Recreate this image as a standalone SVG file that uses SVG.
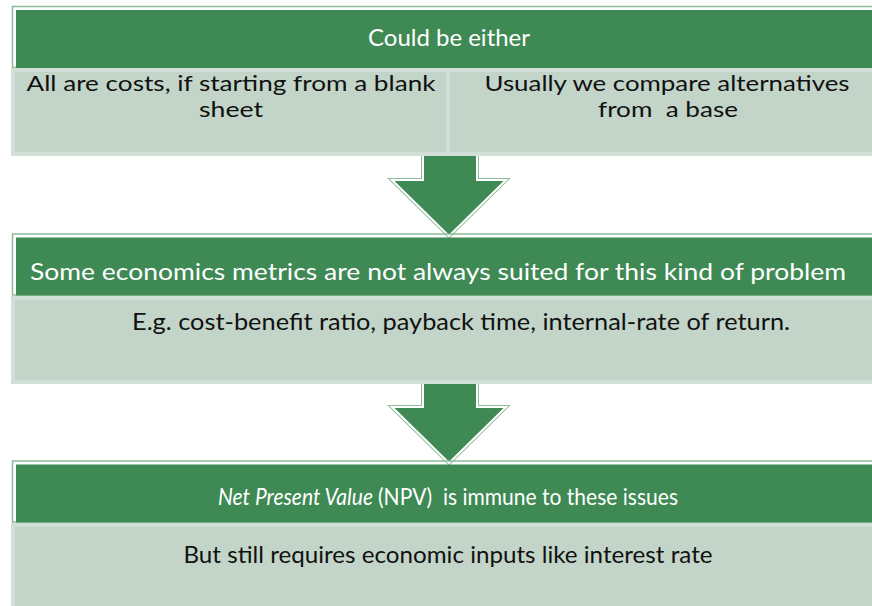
<svg xmlns="http://www.w3.org/2000/svg" width="872" height="606" viewBox="0 0 872 606">
<style>
.outline{fill:none;stroke:#8cbc98;stroke-width:1.5}
.parent{fill:#3e8954}
.child{fill:#c2d5c8;stroke:#d3e0d7;stroke-width:4}
.arrow{fill:#3e8954;stroke:#ffffff;stroke-width:2;stroke-linejoin:miter}
.arrowout{fill:none;stroke:#8cbc98;stroke-width:4;stroke-linejoin:miter}
text{font-family:Lato,"Liberation Sans",sans-serif;font-size:24px;text-anchor:middle;white-space:pre}
.two{font-size:22px}
.start{text-anchor:start}
.w{fill:#ffffff}
.k{fill:#111111}
</style>
<g id="connectors">
  <g id="arrow1">
    <path class="arrowout" d="M423,154 V180 H392 L449,236 L506,180 H477 V154"/>
    <path class="arrow" d="M423,154 V180 H392 L449,236 L506,180 H477 V154 Z"/>
  </g>
  <g id="arrow2">
    <path class="arrowout" d="M423,382 V407 H392 L449,463 L506,407 H477 V382"/>
    <path class="arrow" d="M423,382 V407 H392 L449,463 L506,407 H477 V382 Z"/>
  </g>
</g>
<g id="node1">
  <rect class="outline" x="12.5" y="6.5" width="880" height="61"/>
  <rect class="parent" x="16" y="10" width="880" height="58"/>
  <text class="w" x="449" y="46" textLength="162" lengthAdjust="spacingAndGlyphs">Could be either</text>
</g>
<g id="node1a">
  <rect class="child" x="13" y="70" width="435" height="84"/>
  <text class="k two" x="231" y="91" textLength="409" lengthAdjust="spacingAndGlyphs">All are costs, if starting from a blank</text>
  <text class="k two" x="231" y="117" textLength="64" lengthAdjust="spacingAndGlyphs">sheet</text>
</g>
<g id="node1b">
  <rect class="child" x="448" y="70" width="440" height="84"/>
  <text class="k two" x="667" y="91" textLength="365" lengthAdjust="spacingAndGlyphs">Usually we compare alternatives</text>
  <text class="k two" x="668" y="117" textLength="140" lengthAdjust="spacingAndGlyphs">from  a base</text>
</g>
<g id="node2">
  <rect class="outline" x="12.5" y="234" width="880" height="61"/>
  <rect class="parent" x="16" y="237.5" width="880" height="58"/>
  <text class="w" x="438" y="280" textLength="816" lengthAdjust="spacingAndGlyphs">Some economics metrics are not always suited for this kind of problem</text>
</g>
<g id="node2a">
  <rect class="child" x="13" y="298" width="875" height="84"/>
  <text class="k" x="461" y="330" textLength="658" lengthAdjust="spacingAndGlyphs">E.g. cost-benefit ratio, payback time, internal-rate of return.</text>
</g>
<g id="node3">
  <rect class="outline" x="12.5" y="461" width="880" height="61"/>
  <rect class="parent" x="16" y="464.5" width="880" height="58"/>
  <text class="w start" x="218" y="505" font-style="italic" textLength="155" lengthAdjust="spacingAndGlyphs">Net Present Value</text>
  <text class="w start" x="378" y="505" textLength="300" lengthAdjust="spacingAndGlyphs">(NPV)  is immune to these issues</text>
</g>
<g id="node3a">
  <rect class="child" x="13" y="525" width="875" height="96"/>
  <text class="k" x="448" y="563" textLength="529" lengthAdjust="spacingAndGlyphs">But still requires economic inputs like interest rate</text>
</g>
</svg>
